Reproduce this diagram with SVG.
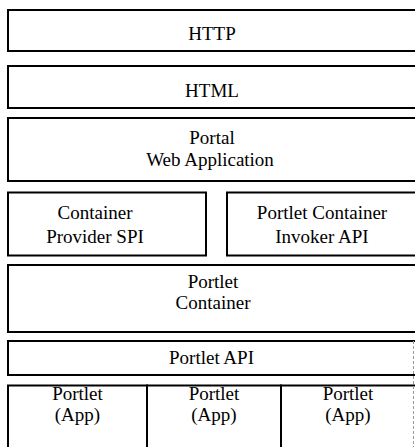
<svg xmlns="http://www.w3.org/2000/svg" width="415" height="447" viewBox="0 0 415 447">
<style>
.box{fill:#fff;stroke:#000;stroke-width:2}
text{font-family:'Liberation Serif','DejaVu Serif',serif;font-size:19px;fill:#000;text-anchor:middle}
.edge{stroke:#999;stroke-width:1;stroke-dasharray:3 2;fill:none}
</style>
<rect width="415" height="447" fill="#fff"/>
<g font-family="Liberation Serif, serif">
<g id="http"><rect class="box" x="8" y="10" width="420" height="41"/><text x="212" y="39.5">HTTP</text></g>
<g id="html"><rect class="box" x="8" y="66" width="420" height="42"/><text x="212" y="97">HTML</text></g>
<g id="portal"><rect class="box" x="8" y="118" width="420" height="63"/><text x="212" y="144">Portal</text><text x="210" y="165.5">Web Application</text></g>
<g id="spi"><rect class="box" x="8" y="192.5" width="198" height="63"/><text x="95" y="218.5">Container</text><text x="95" y="243">Provider SPI</text></g>
<g id="invoker"><rect class="box" x="227" y="192.5" width="200" height="63"/><text x="322" y="218.5">Portlet Container</text><text x="322" y="243">Invoker API</text></g>
<g id="container"><rect class="box" x="8" y="265" width="420" height="67"/><text x="213" y="288">Portlet</text><text x="213" y="309">Container</text></g>
<g id="portletapi"><rect class="box" x="8" y="341" width="420" height="34"/><text x="211.5" y="364">Portlet API</text></g>
<g id="app1"><rect class="box" x="8" y="385.5" width="139" height="70"/><text x="77.5" y="400">Portlet</text><text x="77.5" y="421">(App)</text></g>
<g id="app2"><rect class="box" x="147" y="385.5" width="134" height="70"/><text x="214" y="400">Portlet</text><text x="214" y="421">(App)</text></g>
<g id="app3"><rect class="box" x="281" y="385.5" width="150" height="70"/><text x="348" y="400">Portlet</text><text x="348" y="421">(App)</text></g>
</g>
<g id="connectors"><line class="edge" x1="413.5" y1="341" x2="413.5" y2="447"/></g>
</svg>
